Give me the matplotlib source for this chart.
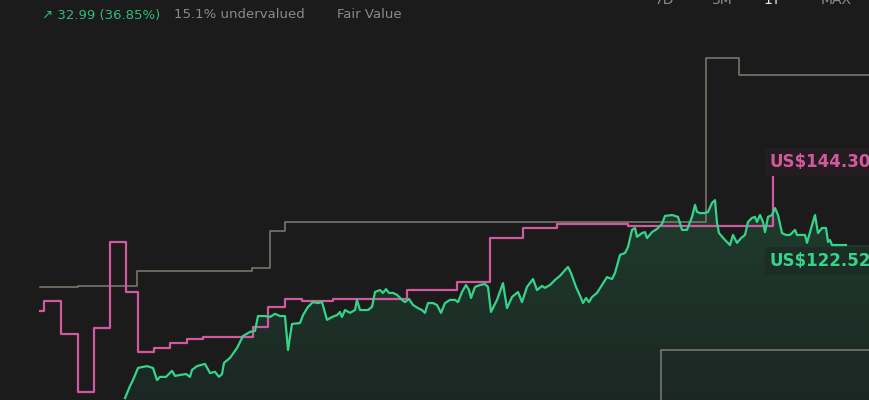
import numpy as np
import matplotlib
matplotlib.use("Agg")
import matplotlib.pyplot as plt

# share price (green), chart units on x
price_x = [125, 130, 133, 138, 142, 147, 153, 157, 160, 166, 172, 175, 180, 186, 190, 192,
           197, 205, 210, 215, 219, 222, 224, 230, 237, 243, 250, 255, 258, 265, 270, 275,
           280, 285, 288, 292, 300, 303, 308, 313, 318, 322, 327, 332, 337, 340, 342, 345,
           350, 355, 357, 360, 368, 372, 375, 380, 383, 386, 389, 393, 397, 402, 405, 409,
           413, 418, 422, 425, 428, 433, 437, 441, 445, 450, 455, 458, 462, 466, 469, 471,
           475, 480, 485, 488, 491, 497, 503, 507, 512, 518, 522, 527, 533, 537, 542, 545,
           550, 555, 560, 565, 568, 571, 576, 581, 583, 586, 589, 592, 597, 602, 607, 612,
           615, 620, 625, 628, 632, 635, 637, 642, 645, 647, 652, 657, 662, 665, 672, 678,
           682, 687, 692, 695, 697, 700, 705, 708, 712, 715, 717, 719, 725, 730, 733, 737,
           741, 745, 748, 752, 755, 757, 760, 763, 765, 768, 772, 775, 778, 782, 786, 790,
           795, 797, 805, 807, 812, 815, 818, 822, 826, 828, 830, 832, 846]
price = [74.2, 78.0, 79.9, 83.7, 84.0, 84.3, 83.7, 79.9, 80.9, 80.9, 82.8, 81.2, 81.5, 81.8, 80.9, 83.1,
         84.3, 85.0, 82.1, 82.5, 80.9, 81.8, 85.3, 86.9, 90.0, 93.8, 95.1, 95.4, 100.1, 100.1, 99.8, 100.8,
         100.1, 100.1, 89.4, 97.6, 97.9, 100.4, 103.0, 104.5, 104.2, 104.5, 98.9, 99.8, 100.4, 101.4, 99.8, 102.0,
         101.1, 102.0, 105.2, 102.0, 102.0, 103.0, 107.7, 108.3, 107.4, 108.6, 107.4, 107.4, 106.8, 105.2, 104.5, 105.5,
         103.6, 102.6, 102.0, 101.1, 104.2, 104.2, 103.6, 101.1, 104.2, 105.2, 105.2, 104.5, 107.7, 109.9, 108.3, 105.8,
         109.3, 109.9, 110.2, 109.3, 101.4, 105.2, 110.5, 102.6, 106.1, 107.7, 104.5, 109.3, 111.8, 108.3, 109.6, 109.0,
         109.9, 111.5, 112.8, 114.6, 115.6, 113.7, 109.3, 105.8, 104.2, 105.8, 104.5, 106.1, 107.4, 109.9, 112.4, 111.8,
         113.7, 119.4, 120.0, 121.9, 127.3, 127.9, 125.1, 126.3, 126.6, 124.7, 126.6, 127.6, 129.2, 131.7, 132.0, 131.4,
         127.3, 127.3, 131.4, 135.2, 133.0, 132.6, 132.6, 133.0, 135.8, 136.7, 129.5, 126.3, 124.1, 122.5, 125.7, 123.2,
         124.7, 125.7, 129.8, 131.1, 131.4, 129.8, 132.0, 129.8, 126.6, 131.4, 132.0, 134.2, 132.0, 126.3, 125.7, 125.7,
         127.3, 125.7, 125.7, 123.2, 128.8, 132.0, 126.3, 127.9, 127.9, 123.5, 124.1, 122.5, 122.52]

# fair value estimate (pink step line)
fv_x = [40, 44, 61, 78, 94, 110, 126, 138, 154, 170, 187, 203, 253, 268, 285, 302, 333, 407,
        457, 490, 523, 557, 628, 773, 773]
fair_value = [101.7, 104.9, 94.5, 76.2, 96.4, 123.5, 107.7, 88.8, 90.0, 91.6, 92.9, 93.5, 96.7,
              103.0, 105.5, 104.9, 105.5, 108.4, 110.9, 124.8, 127.9, 129.2, 128.6, 128.6, 144.3]

# analyst targets (grey step lines)
high_x = [40, 78, 137, 252, 270, 285, 706, 739, 870]
high_target = [109.3, 109.6, 114.3, 115.3, 127.0, 129.8, 181.7, 176.2, 176.2]
low_x = [40, 661, 870]
low_target = [60.0, 89.4, 89.4]

bg = "#1b1b1b"
green = "#34d48a"
pink = "#d05a9c"
grey = "#807c72"

fig = plt.figure(figsize=(8.7, 4.0), dpi=100, facecolor=bg)
ax = fig.add_axes([0, 0, 1, 1])
ax.set_facecolor(bg)
ax.set_xlim(0, 870)
ax.set_ylim(73.6, 199.87)
ax.axis("off")

# gradient area under the price (runs on under the last-price tag)
fill_x = price_x + [870]
fill_y = price + [price[-1]]
poly = ax.fill_between(fill_x, fill_y, 73.6, color="none", lw=0)
grad = np.linspace(0, 1, 256).reshape(-1, 1)
cmap = matplotlib.colors.LinearSegmentedColormap.from_list(
    "g", ["#1b2723", "#203c2e"])
img = ax.imshow(grad, extent=[0, 870, 73.6, 137], origin="lower", cmap=cmap,
                aspect="auto", zorder=1)
img.set_clip_path(poly.get_paths()[0], transform=ax.transData)

ax.step(high_x, high_target, where="post", color=grey, lw=1.1, zorder=2)
ax.step(low_x, low_target, where="post", color=grey, lw=1.1, zorder=2)
ax.step(fv_x, fair_value, where="post", color=pink, lw=1.6, zorder=3)
ax.plot(price_x, price, color=green, lw=1.6, zorder=4)

ax.text(770, fair_value[-1] + 4.5, "US$144.30", color=pink, fontsize=12,
        fontweight="bold", va="center", ha="left", zorder=6,
        bbox=dict(boxstyle="square,pad=0.3", fc="#251c22", ec="none"))
ax.text(770, price[-1] - 4.9, "US$122.52", color=green, fontsize=12,
        fontweight="bold", va="center", ha="left", zorder=6,
        bbox=dict(boxstyle="square,pad=0.3", fc="#1d2c25", ec="none"))

# header
fig.text(42 / 870, 1 - 15 / 400, "↗ 32.99 (36.85%)", color="#2ebd7a",
         fontsize=9.5, va="center", ha="left")
fig.text(174 / 870, 1 - 15 / 400, "15.1% undervalued", color="#8a8a8a",
         fontsize=9.5, va="center", ha="left")
fig.text(337 / 870, 1 - 15 / 400, "Fair Value", color="#8a8a8a",
         fontsize=9.5, va="center", ha="left")

# range selector, cut by the top edge as in the screenshot
for lab, xp, col in [("7D", 665, "#8a8a8a"), ("3M", 722, "#8a8a8a"),
                     ("1Y", 772, "#e6e6e6"), ("MAX", 836, "#8a8a8a")]:
    fig.text(xp / 870, 1 - 4 / 400, lab, color=col, fontsize=10,
             va="baseline", ha="center")

fig.savefig("out.png", dpi=100, facecolor=bg)
